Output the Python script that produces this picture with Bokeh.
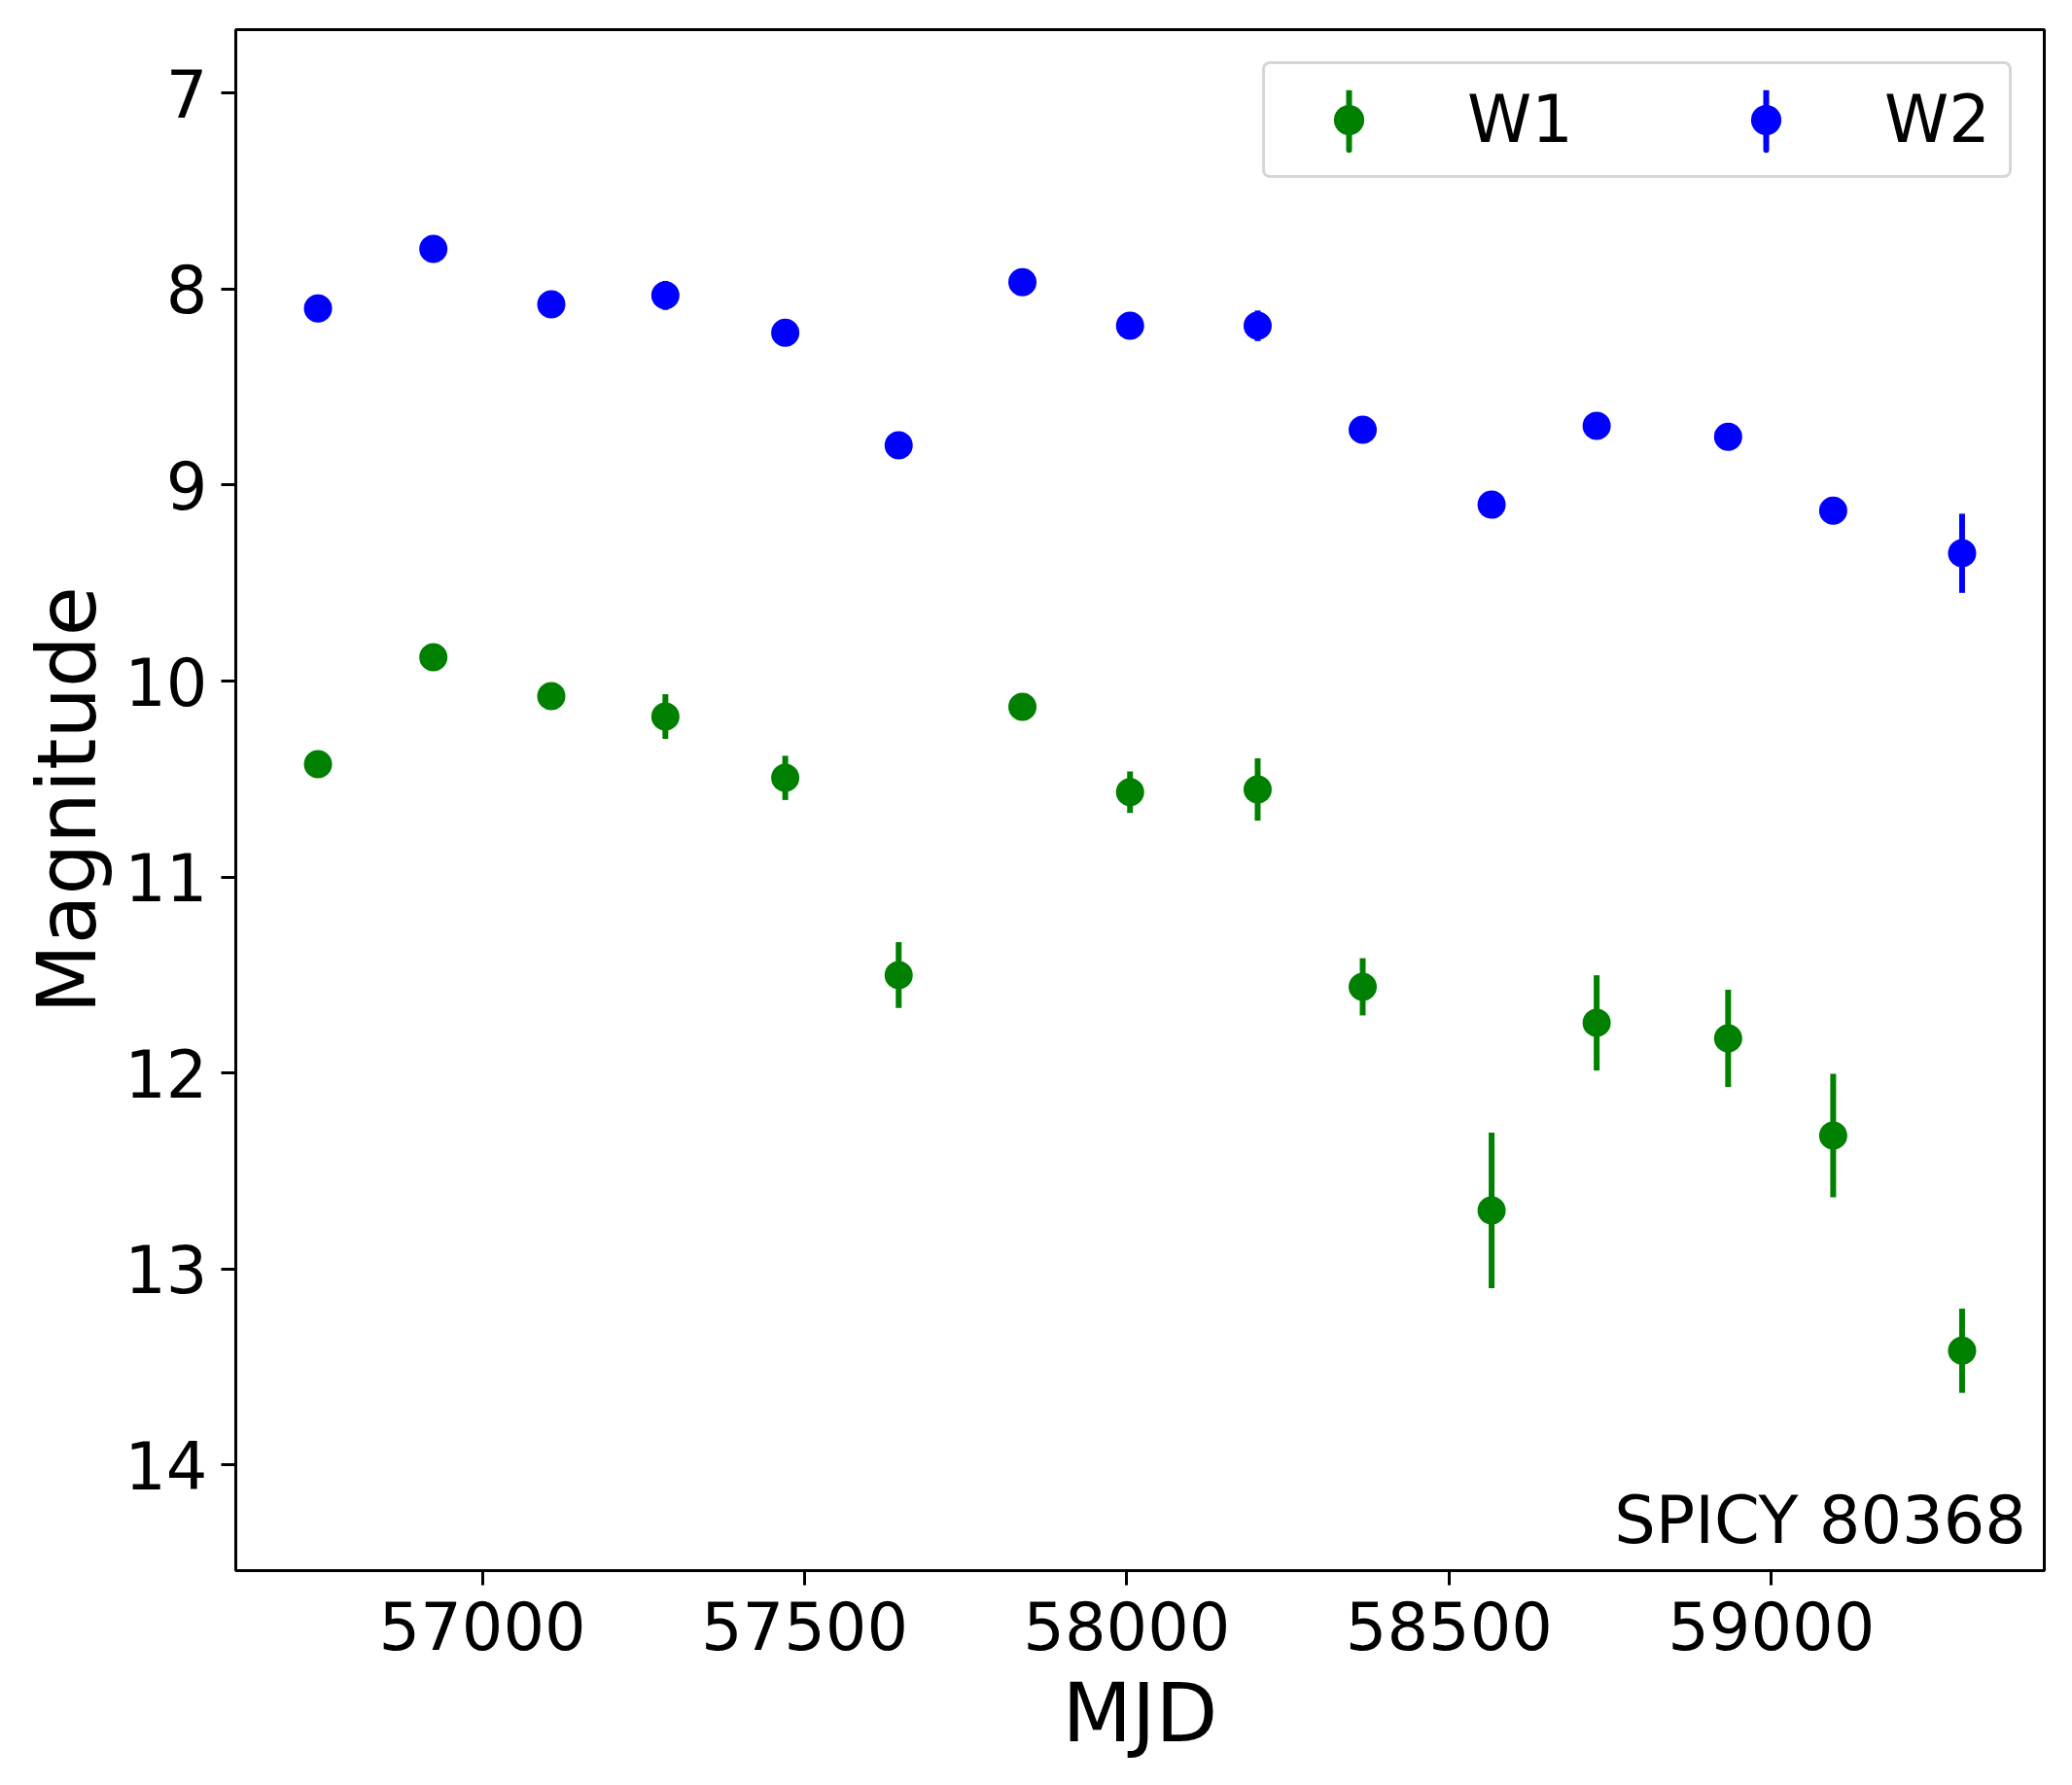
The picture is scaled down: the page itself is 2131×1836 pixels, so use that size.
import numpy as np
from bokeh.plotting import figure
from bokeh.models import Range1d, FixedTicker, Legend, LegendItem, Label
from bokeh.embed import file_html
from bokeh.resources import INLINE

# ---- data ----
mjd = [56745, 56924, 57107, 57284, 57470, 57646, 57838, 58005, 58203,
       58366, 58566, 58729, 58933, 59096, 59296]
w1_mag = [10.424, 9.878, 10.077, 10.181, 10.494, 11.500, 10.131, 10.567, 10.553,
          11.560, 12.701, 11.744, 11.823, 12.319, 13.417]
w1_err = [0.04, 0.04, 0.05, 0.114, 0.113, 0.168, 0.05, 0.106, 0.159,
          0.146, 0.397, 0.243, 0.248, 0.315, 0.215]
w2_mag = [8.098, 7.795, 8.078, 8.032, 8.222, 8.797, 7.964, 8.187, 8.187,
          8.718, 9.100, 8.698, 8.753, 9.130, 9.348]
w2_err = [0.03, 0.03, 0.03, 0.074, 0.03, 0.03, 0.03, 0.03, 0.078,
          0.03, 0.03, 0.03, 0.03, 0.03, 0.202]
x_ticks = [57000, 57500, 58000, 58500, 59000]
y_ticks = [7, 8, 9, 10, 11, 12, 13, 14]
y_limits = (14.539, 6.676)
source_name = "SPICY 80368"

FONT = "DejaVu Sans"

span = max(mjd) - min(mjd)
xmin, xmax = min(mjd) - 0.05 * span, max(mjd) + 0.05 * span

p = figure(frame_width=1860, frame_height=1585,
           min_border_left=242, min_border_top=30, min_border_right=21, min_border_bottom=205,
           x_range=Range1d(xmin, xmax), y_range=Range1d(*y_limits),
           output_backend="svg", toolbar_location=None)

p.background_fill_color = "white"
p.border_fill_color = "white"
p.outline_line_color = "black"
p.outline_line_width = 3
p.xgrid.visible = False
p.ygrid.visible = False

for ax in (p.xaxis[0], p.yaxis[0]):
    ax.axis_line_color = None
    ax.major_tick_out = 15
    ax.major_tick_in = 0
    ax.major_tick_line_width = 3
    ax.minor_tick_line_color = None
    ax.major_label_text_font = FONT
    ax.major_label_text_font_size = "67px"
    ax.major_label_text_color = "black"
    ax.axis_label_text_font = FONT
    ax.axis_label_text_font_size = "83px"
    ax.axis_label_text_font_style = "normal"
    ax.axis_label_text_color = "black"

p.xaxis.ticker = FixedTicker(ticks=x_ticks)
p.yaxis.ticker = FixedTicker(ticks=y_ticks)
p.xaxis.axis_label = "MJD"
p.yaxis.axis_label = "Magnitude"
p.xaxis.major_label_standoff = 16
p.yaxis.major_label_standoff = 14
p.xaxis.axis_label_standoff = 14
p.yaxis.axis_label_standoff = 7

series = [("W1", w1_mag, w1_err, "green"), ("W2", w2_mag, w2_err, "blue")]
items = []
for name, mag, err, color in series:
    m = np.array(mag)
    e = np.array(err)
    p.segment(x0=mjd, y0=m - e, x1=mjd, y1=m + e, line_color=color, line_width=6)
    sc = p.scatter(x=mjd, y=mag, size=29, marker="circle", fill_color=color, line_color=None)
    # legend-only handle: a very thin ellipse renders as a vertical error-bar stroke
    bar = p.ellipse(x=[np.nan], y=[np.nan], width=0.001, height=1.0,
                    width_units="screen", height_units="screen",
                    fill_color=None, line_color=color, line_width=6)
    items.append(LegendItem(label=name, renderers=[bar, sc]))

legend = Legend(items=items, orientation="horizontal", location="top_right",
                margin=33, padding=18, glyph_width=136, glyph_height=78,
                label_standoff=54, spacing=129, label_width=110,
                label_text_font=FONT, label_text_font_size="67px", label_text_color="black",
                border_line_color="#cccccc", border_line_width=3, border_line_alpha=0.8,
                background_fill_color="white", background_fill_alpha=0.8)
if "border_radius" in Legend.properties():
    legend.border_radius = 8
p.add_layout(legend)

ylo, yhi = y_limits
label = Label(x=xmin + 0.99 * (xmax - xmin), y=ylo - 0.0325 * (ylo - yhi),
              text=source_name, text_align="right", text_baseline="alphabetic",
              text_font=FONT, text_font_size="67px", text_color="black")
p.add_layout(label)

open("out.html", "w").write(file_html(p, INLINE))
